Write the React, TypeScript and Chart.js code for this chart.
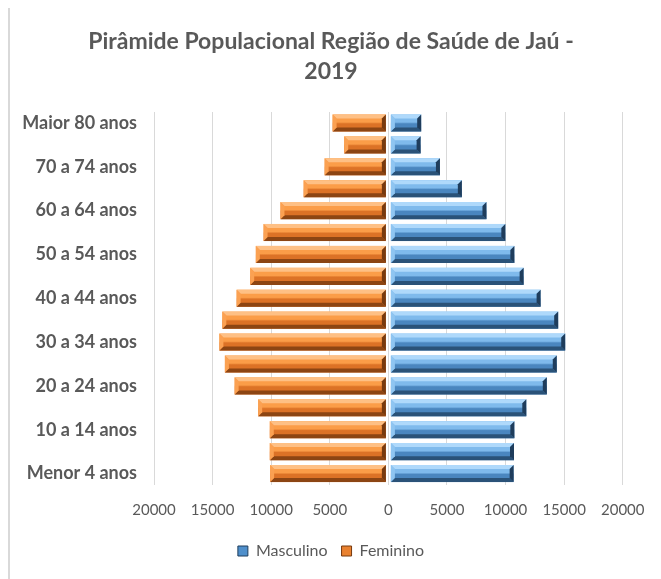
import React, { useEffect, useRef } from "react";
import { Chart, registerables } from "chart.js";

Chart.register(...registerables);

const titleLines = ["Pirâmide Populacional Região de Saúde de Jaú -", "2019"];

const categories = [
  "Maior 80 anos", "75 a 79 anos", "70 a 74 anos", "65 a 69 anos", "60 a 64 anos",
  "55 a 59 anos", "50 a 54 anos", "45 a 49 anos", "40 a 44 anos", "35 a 39 anos",
  "30 a 34 anos", "25 a 29 anos", "20 a 24 anos", "15 a 19 anos", "10 a 14 anos",
  "5 a 9 anos", "Menor 4 anos",
];

const masculino = [2800, 2750, 4400, 6270, 8370, 9980, 10750, 11540, 12990, 14490, 15090, 14370, 13520, 11770, 10750, 10720, 10690];
const feminino = [4760, 3770, 5440, 7230, 9210, 10650, 11310, 11790, 12950, 14170, 14420, 13950, 13120, 11110, 10120, 10120, 10090];

const xTicks = [-20000, -15000, -10000, -5000, 0, 5000, 10000, 15000, 20000];

const TEXT = "#595959";
const FONT = "Lato, 'Open Sans', sans-serif";

const palettes: Record<string, any> = {
  Masculino: {
    faceTop: "#7fbaec", faceBot: "#4a86bf", top: "#afd9fb", bottom: "#2a5278",
    left: "#8fc5f1", right: "#1f3d5c", legend: "#4f8fcb",
  },
  Feminino: {
    faceTop: "#fb9d48", faceBot: "#dc7226", top: "#fec085", bottom: "#8c4513",
    left: "#fba152", right: "#773a0f", legend: "#e9812f",
  },
};

const bevelPlugin = {
  id: "bevel",
  afterDatasetsDraw(chart: any) {
    const ctx = chart.ctx;
    chart.data.datasets.forEach((ds: any, di: number) => {
      const meta = chart.getDatasetMeta(di);
      if (meta.hidden) return;
      const p = palettes[ds.label];
      meta.data.forEach((el: any) => {
        const { x, y, base, height } = el.getProps(["x", "y", "base", "height"], true);
        let left = Math.min(x, base);
        let right = Math.max(x, base);
        if (ds.label === "Masculino") left += 2; else right -= 2;
        const top = y - height / 2;
        const bot = y + height / 2;
        const w = right - left;
        if (w <= 0) return;
        const b = Math.min(4, w / 2, height / 2);
        ctx.save();
        const g = ctx.createLinearGradient(0, top, 0, bot);
        g.addColorStop(0, p.faceTop);
        g.addColorStop(0.45, p.faceTop);
        g.addColorStop(0.55, p.faceBot);
        g.addColorStop(1, p.faceBot);
        ctx.fillStyle = g;
        ctx.fillRect(left, top, w, height);
        ctx.fillStyle = p.top;
        ctx.beginPath();
        ctx.moveTo(left, top); ctx.lineTo(right, top); ctx.lineTo(right - b, top + b); ctx.lineTo(left + b, top + b);
        ctx.closePath(); ctx.fill();
        ctx.fillStyle = p.bottom;
        ctx.beginPath();
        ctx.moveTo(left, bot); ctx.lineTo(right, bot); ctx.lineTo(right - b, bot - b); ctx.lineTo(left + b, bot - b);
        ctx.closePath(); ctx.fill();
        ctx.fillStyle = p.left;
        ctx.beginPath();
        ctx.moveTo(left, top); ctx.lineTo(left + b, top + b); ctx.lineTo(left + b, bot - b); ctx.lineTo(left, bot);
        ctx.closePath(); ctx.fill();
        ctx.fillStyle = p.right;
        ctx.beginPath();
        ctx.moveTo(right, top); ctx.lineTo(right - b, top + b); ctx.lineTo(right - b, bot - b); ctx.lineTo(right, bot);
        ctx.closePath(); ctx.fill();
        ctx.restore();
      });
    });
  },
};

export default function App() {
  const ref = useRef<HTMLCanvasElement | null>(null);

  useEffect(() => {
    if (!ref.current) return;
    const chart = new Chart(ref.current, {
      type: "bar",
      data: {
        labels: categories,
        datasets: [
          {
            label: "Masculino",
            data: masculino,
            backgroundColor: "rgba(0,0,0,0)",
            borderWidth: 0,
            barPercentage: 0.78,
            categoryPercentage: 1,
          },
          {
            label: "Feminino",
            data: feminino.map((v) => -v),
            backgroundColor: "rgba(0,0,0,0)",
            borderWidth: 0,
            barPercentage: 0.78,
            categoryPercentage: 1,
          },
        ],
      },
      options: {
        indexAxis: "y",
        animation: false,
        responsive: true,
        maintainAspectRatio: false,
        layout: { padding: { left: 0, right: 7, top: 0, bottom: 10 } },
        scales: {
          x: {
            stacked: true,
            min: -20000,
            max: 20000,
            afterBuildTicks: (s: any) => {
              s.ticks = xTicks.map((v) => ({ value: v }));
            },
            afterFit: (s: any) => { s.height = 44.5; },
            ticks: {
              callback: (v: any) => String(Math.abs(Number(v))),
              color: TEXT,
              font: { family: FONT, size: 15 },
              padding: 16.5,
              maxRotation: 0,
              autoSkip: false,
            },
            grid: { color: "#d9d9d9", lineWidth: 1, drawTicks: false },
            border: { display: false },
          },
          y: {
            stacked: true,
            afterFit: (s: any) => { s.width = 146; },
            ticks: {
              autoSkip: false,
              callback: (_v: any, i: number) => (i % 2 === 0 ? categories[i] : ""),
              color: TEXT,
              font: { family: FONT, size: 18, weight: "bold" },
              padding: 17,
            },
            grid: { display: false, drawTicks: false },
            border: { display: false },
          },
          spacer: {
            type: "linear",
            axis: "y",
            position: "right",
            display: true,
            afterFit: (s: any) => { s.width = 29; },
            ticks: { display: false },
            grid: { display: false, drawTicks: false },
            border: { display: false },
          },
        },
        plugins: {
          title: {
            display: true,
            text: titleLines,
            color: TEXT,
            font: { family: FONT, size: 23, weight: "bold", lineHeight: 30 / 23 },
            padding: { top: 19, bottom: 25 },
          },
          legend: {
            position: "bottom",
            labels: {
              color: TEXT,
              font: { family: FONT, size: 16 },
              boxWidth: 10,
              boxHeight: 10,
              padding: 14,
              generateLabels: (c: any) =>
                c.data.datasets.map((ds: any, i: number) => ({
                  text: ds.label,
                  fillStyle: palettes[ds.label].legend,
                  strokeStyle: palettes[ds.label].right,
                  lineWidth: 1,
                  fontColor: TEXT,
                  hidden: false,
                  datasetIndex: i,
                })),
            },
          },
          tooltip: { enabled: false },
        },
      },
      plugins: [bevelPlugin],
    });
    return () => chart.destroy();
  }, []);

  return (
    <div style={{ position: "relative", width: 653, height: 571, overflow: "hidden" }}>
      <div
        style={{
          position: "absolute", left: 0, top: -1, width: 800, height: 800,
          borderLeft: "2px solid #d9d9d9", borderTop: "1px solid #d9d9d9", boxSizing: "border-box",
        }}
      />
      <div style={{ position: "absolute", left: 0, top: 0, width: 653, height: 571 }}>
        <canvas ref={ref} />
      </div>
    </div>
  );
}
